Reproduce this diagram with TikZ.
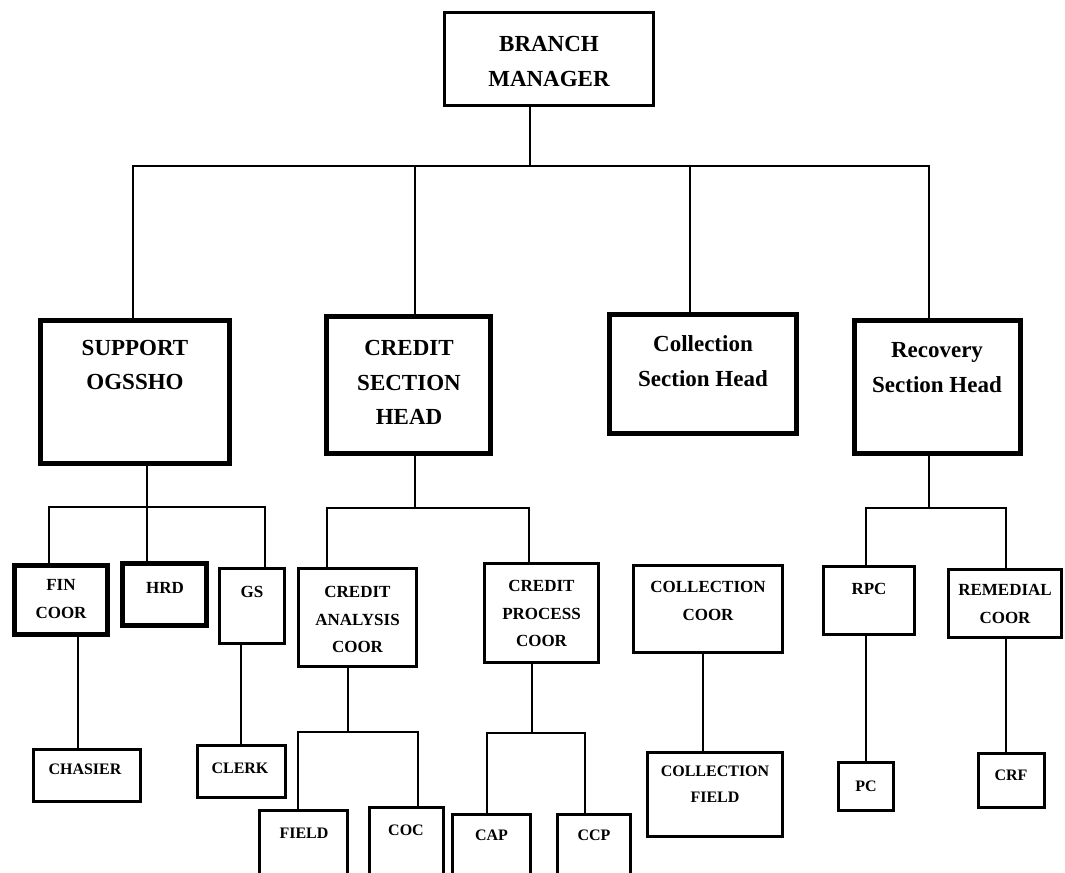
\documentclass[tikz,border=0pt]{standalone}
\usepackage{fontspec}
\setmainfont{Liberation Serif}
\begin{document}
\begin{tikzpicture}[x=0.75pt,y=-0.75pt]
\tikzset{
  box/.style={draw, inner sep=0pt, outer sep=0pt},
  conn/.style={line width=1.1pt, line cap=rect},
  lvA/.style={font=\fontsize{17.25pt}{26pt}\selectfont\bfseries, align=center, inner sep=0pt},
  lvB/.style={font=\fontsize{12.75pt}{20.5pt}\selectfont\bfseries, align=center, inner sep=0pt},
  lvC/.style={font=\fontsize{12pt}{19.5pt}\selectfont\bfseries, align=center, inner sep=0pt}
}
\newcommand\orgbox[6]{%
  \pgfmathsetmacro\bxw{(#4-#2-#6)*0.75}%
  \pgfmathsetmacro\bxh{(#5-#3-#6)*0.75}%
  \pgfmathsetmacro\bxl{#6*0.75}%
  \node[box, line width=\bxl pt, outer sep=0.5*\bxl pt, minimum width=\bxw pt, minimum height=\bxh pt] (#1) at ({(#2+#4)/2},{(#3+#5)/2}) {};%
}
\useasboundingbox (0,0) rectangle (1065,873);
\fill[white] (0,0) rectangle (1065,873);
\clip (0,0) rectangle (1065,873);

% boxes
\orgbox{bm}{443}{11}{655}{107}{3}
\orgbox{sup}{38}{318}{232}{466}{5}
\orgbox{csh}{324}{314}{493}{456}{5}
\orgbox{col}{607}{312}{799}{436}{5}
\orgbox{rec}{852}{318}{1023}{456}{5}
\orgbox{fin}{12}{563}{110}{637}{5}
\orgbox{hrd}{120}{561}{209}{628}{5}
\orgbox{gs}{218}{567}{286}{645}{3}
\orgbox{cha}{32}{748}{142}{803}{3}
\orgbox{clk}{196}{744}{287}{799}{3}
\orgbox{cac}{297}{567}{418}{668}{3}
\orgbox{cpc}{483}{562}{600}{664}{3}
\orgbox{fld}{258}{809}{349}{900}{3}
\orgbox{coc}{368}{806}{445}{900}{3}
\orgbox{cap}{451}{813}{532}{900}{3}
\orgbox{ccp}{556}{813}{632}{900}{3}
\orgbox{cco}{632}{564}{784}{654}{3}
\orgbox{cfd}{646}{751}{784}{838}{3}
\orgbox{rpc}{822}{565}{916}{636}{3}
\orgbox{rem}{947}{568}{1063}{639}{3}
\orgbox{pc}{837}{761}{895}{812}{3}
\orgbox{crf}{977}{752}{1046}{809}{3}

% texts
\node[lvA] (tbm) at (549,61.5) {BRANCH\\MANAGER};
\node[lvA] (tsup) at (135,365) {SUPPORT\\OGSSHO};
\node[lvA] (tcsh) at (409,382.5) {CREDIT\\SECTION\\HEAD};
\node[lvA] (tcol) at (703,361) {Collection\\Section Head};
\node[lvA] (trec) at (937,367.5) {Recovery\\Section Head};
\node[lvB] (tfin) at (61,599) {FIN\\COOR};
\node[lvB] (thrd) at (165,588) {HRD};
\node[lvB] (tgs) at (252,592) {GS};
\node[lvB] (tcac) at (357.5,619.5) {CREDIT\\ANALYSIS\\COOR};
\node[lvB] (tcpc) at (541.5,613.5) {CREDIT\\PROCESS\\COOR};
\node[lvB] (tcco) at (708,601) {COLLECTION\\COOR};
\node[lvB] (trpc) at (869,589) {RPC};
\node[lvB] (trem) at (1005,604) {REMEDIAL\\COOR};
\node[lvC] (tcha) at (85,769) {CHASIER};
\node[lvC] (tclk) at (240,768) {CLERK};
\node[lvC] (tfld) at (304,833) {FIELD};
\node[lvC] (tcoc) at (406,830) {COC};
\node[lvC] (tcap) at (491.5,835) {CAP};
\node[lvC] (tccp) at (594,835) {CCP};
\node[lvC] (tcfd) at (715,784) {COLLECTION\\FIELD};
\node[lvC] (tpc) at (866,786) {PC};
\node[lvC] (tcrf) at (1011,775) {CRF};

% junction coordinates
\coordinate (j0) at (530,166);
\coordinate (jS) at (133,166);
\coordinate (jC) at (415,166);
\coordinate (jL) at (690,166);
\coordinate (jR) at (929,166);
\coordinate (s0) at (147,507);
\coordinate (s1) at (49,507);
\coordinate (s3) at (265,507);
\coordinate (c0) at (415,508);
\coordinate (c1) at (327,508);
\coordinate (c2) at (529,508);
\coordinate (r0) at (929,508);
\coordinate (r1) at (866,508);
\coordinate (r2) at (1006,508);
\coordinate (a0) at (348,732);
\coordinate (a1) at (298,732);
\coordinate (a2) at (418,732);
\coordinate (p0) at (532,733);
\coordinate (p1) at (487,733);
\coordinate (p2) at (585,733);
\coordinate (k1) at (78,700);
\coordinate (k2) at (241,700);
\coordinate (k3) at (703,700);
\coordinate (k4) at (866,700);
\coordinate (k5) at (1006,700);

% connectors
\draw[conn] (bm.south -| j0) -- (j0);
\draw[conn] (sup.north -| jS) -- (jS) -- (jR) -- (rec.north -| jR);
\draw[conn] (csh.north -| jC) -- (jC);
\draw[conn] (col.north -| jL) -- (jL);

\draw[conn] (sup.south -| s0) -- (hrd.north -| s0);
\draw[conn] (fin.north -| s1) |- (s3) -- (gs.north -| s3);

\draw[conn] (csh.south -| c0) -- (c0);
\draw[conn] (cac.north -| c1) |- (c2) -- (cpc.north -| c2);

\draw[conn] (rec.south -| r0) -- (r0);
\draw[conn] (rpc.north -| r1) |- (r2) -- (rem.north -| r2);

\draw[conn] (cac.south -| a0) -- (a0);
\draw[conn] (fld.north -| a1) |- (a2) -- (coc.north -| a2);

\draw[conn] (cpc.south -| p0) -- (p0);
\draw[conn] (cap.north -| p1) |- (p2) -- (ccp.north -| p2);

\draw[conn] (fin.south -| k1) -- (cha.north -| k1);
\draw[conn] (gs.south -| k2) -- (clk.north -| k2);
\draw[conn] (cco.south -| k3) -- (cfd.north -| k3);
\draw[conn] (rpc.south -| k4) -- (pc.north -| k4);
\draw[conn] (rem.south -| k5) -- (crf.north -| k5);
\end{tikzpicture}
\end{document}
